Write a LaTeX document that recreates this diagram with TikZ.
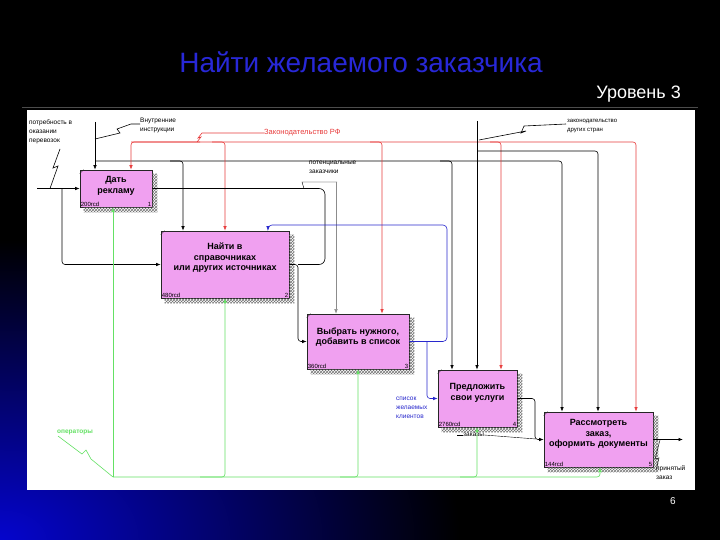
\documentclass[tikz,border=0pt]{standalone}
\usepackage{fontspec}
\setmainfont{Liberation Sans}
\usetikzlibrary{arrows.meta,patterns,calc}
\definecolor{boxpink}{RGB}{240,160,240}
\definecolor{titleblue}{RGB}{40,40,215}
\definecolor{lred}{RGB}{232,60,60}
\definecolor{lblue}{RGB}{40,40,205}
\definecolor{lgreen}{RGB}{100,225,100}
\definecolor{bgblue}{RGB}{5,5,205}
\tikzset{
  box/.style={draw=black!85, line width=0.6pt, fill=boxpink, inner sep=0pt},
  btxt/.style={font=\bfseries\fontsize{9}{10.5}\selectfont, align=center, inner sep=0pt},
  cost/.style={font=\fontsize{6}{7}\selectfont, inner sep=1pt},
  lbl/.style={font=\fontsize{6.5}{9}\selectfont, align=left, inner sep=0pt},
  wire/.style={line width=0.6pt},
  conn/.style={wire, -{Latex[length=4.5pt,width=3.4pt]}},
  rnd/.style={rounded corners=3pt},
}
\newcommand{\idefshadow}[1]{%
  \fill[pattern=crosshatch, pattern color=black!55]
   ($(#1.north east)+(0,4)$) -- ++(5,0) -- ($(#1.south east)+(5,5)$)
   -- ($(#1.south west)+(4,5)$) -- ($(#1.south west)+(4,0)$) -- (#1.south east) -- cycle;
  \draw[black!85, line width=0.4pt] ($(#1.north west)+(0,4)$) -- ++(4,-4);}
\begin{document}
\begin{tikzpicture}[x=1pt,y=-1pt]
\useasboundingbox (0,0) rectangle (720,540);
% background
\fill[black] (0,0) rectangle (720,540);
\begin{scope}
  \clip (0,0) rectangle (720,540);
  \shade[inner color=bgblue, outer color=black] (0,540) ellipse (460 and 300);
  \fill[black] (27,0) rectangle (720,490);
\end{scope}
\fill[white] (27,110) rectangle (695,490);
\draw[black!70!white, line width=0.3pt] (22,107) -- (698,107);
% title
\node[font=\fontsize{28}{31}\selectfont, text=titleblue, inner sep=0pt] (title) at (361,62) {Найти желаемого заказчика};
\node[font=\fontsize{18}{20}\selectfont, text=white, anchor=east, inner sep=0pt] (lvl) at (681,94) {Уровень 3};
\node[font=\fontsize{10}{12}\selectfont, text=white, inner sep=0pt] (pg) at (673,501) {6};

% boxes
\node[box, minimum width=72pt, minimum height=37pt] (b1) at (116,188.5) {};
\node[box, minimum width=128pt, minimum height=67pt] (b2) at (225,264.5) {};
\node[box, minimum width=102pt, minimum height=55pt] (b3) at (358,341.5) {};
\node[box, minimum width=79pt, minimum height=57pt] (b4) at (477.5,398.5) {};
\node[box, minimum width=109pt, minimum height=55pt] (b5) at (598.5,439.5) {};
\idefshadow{b1}\idefshadow{b2}\idefshadow{b3}\idefshadow{b4}\idefshadow{b5}

\node[btxt] (t1) at (116,186) {Дать\\рекламу};
\node[btxt] (t2) at (225,258) {Найти в\\справочниках\\или других источниках};
\node[btxt] (t3) at (358,337) {Выбрать нужного,\\добавить в список};
\node[btxt] (t4) at (477.5,393) {Предложить\\свои услуги};
\node[btxt] (t5) at (598.5,434) {Рассмотреть\\заказ,\\оформить документы};

\node[cost, anchor=south west] (k1) at (b1.south west) {200rcd};
\node[cost, anchor=south east] (n1) at (b1.south east) {1};
\node[cost, anchor=south west] (k2) at (b2.south west) {480rcd};
\node[cost, anchor=south east] (n2) at (b2.south east) {2};
\node[cost, anchor=south west] (k3) at (b3.south west) {360rcd};
\node[cost, anchor=south east] (n3) at (b3.south east) {3};
\node[cost, anchor=south west] (k4) at (b4.south west) {2760rcd};
\node[cost, anchor=south east] (n4) at (b4.south east) {4};
\node[cost, anchor=south west] (k5) at (b5.south west) {144rcd};
\node[cost, anchor=south east] (n5) at (b5.south east) {5};

% ---- input: потребность
\node[lbl, anchor=north west] (lin) at (29,120) {потребность в\\оказании\\перевозок};
\coordinate (in1) at (37,188.5);
\draw[conn] (in1) -- (b1.west);
\draw[conn, rnd] (62,188.5) |- (b2.west);
\draw[wire] (60,149) -- (53,168) -- (58,166) -- (50,188.5);

% ---- control: внутренние инструкции (black)
\node[lbl, anchor=north west] (lins) at (140,118) {Внутренние\\инструкции};
\draw[conn] (95,122) -- (95,0 |- b1.north);
\draw[wire] (140,124) -- (131,124) -- (117,129) -- (120,133) -- (95,139);
\draw[conn, rnd] (95,161) -| (562,0 |- b5.north);
\draw[conn, rnd] (170,161) -| (183,0 |- b2.north);
\draw[conn, rnd] (440,161) -| (452,0 |- b4.north);

% ---- control: законодательство РФ (red)
\node[lbl, anchor=west, text=lred, font=\fontsize{7.5}{9}\selectfont] (lrf) at (264,133) {Законодательство РФ};
\draw[wire, lred] (lrf.west) -- (202,133) -- (198,138) -- (201,137) -- (197,142);
\draw[conn, lred, rnd] (200,142) -| (131,0 |- b1.north);
\draw[conn, lred, rnd] (131,142) -| (636,0 |- b5.north);
\draw[conn, lred, rnd] (212,142) -| (225,0 |- b2.north);
\draw[conn, lred, rnd] (370,142) -| (382,0 |- b3.north);
\draw[conn, lred, rnd] (490,142) -| (501,0 |- b4.north);

% ---- control: законодательство других стран (black)
\node[lbl, anchor=north west, font=\fontsize{6}{9.5}\selectfont] (lds) at (567,119) {законодательство\\других стран};
\draw[wire] (566,124) -- (524,126) -- (521,133) -- (526,131) -- (479,140);
\draw[conn] (477,121) -- (477,0 |- b4.north);
\draw[conn, rnd] (477,151) -| (598,0 |- b5.north);

% ---- потенциальные заказчики
\node[lbl, anchor=north west] (lpz) at (309,161) {потенциальные\\заказчики};
\draw[wire, line width=0.4pt] (304,188.5) -- (302,182) -- (337,182);
\draw[conn, black!45, line width=0.4pt] (336,182) -- (336,0 |- b3.north);

% ---- output box1 and box2 -> box3
\coordinate (j23) at (298,264.5);
\draw[wire, rounded corners=6pt] (b1.east) -- (325,188.5) -- (325,264.5) -- (j23);
\draw[conn, rnd] (b2.east) -- (j23) |- (b3.west);

% ---- output box3 (blue)
\draw[conn, lblue, rounded corners=4pt] (b3.east) -- (447,341.5) -- (447,225) -- (268,225) -- (268,0 |- b2.north);
\draw[conn, lblue, rnd] (427,341.5) |- (b4.west);
\node[lbl, anchor=north west, text=lblue] (lsp) at (396,397) {список\\желаемых\\клиентов};

% ---- output box4 -> box5
\draw[conn, rnd] (b4.east) -- (535,398.5) |- (b5.west);
\node[lbl, anchor=west] (lzk) at (463,435) {заказы};
\draw[wire, line width=0.4pt] (457,435) -- (lzk.west);
\draw[wire, line width=0.4pt] (lzk.east) -- (536,439);

% ---- output box5
\coordinate (out5) at (683,439.5);
\draw[conn] (b5.east) -- (out5);
\node[lbl, anchor=north west] (lpr) at (656,465) {принятый\\заказ};
\draw[wire, line width=0.4pt] (657,466) -- (659,458) -- (655,459) -- (660,440);

% ---- mechanism (green)
\node[lbl, text=lgreen, font=\bfseries\fontsize{6.5}{8}\selectfont] (lop) at (75,432) {операторы};
\draw[wire, lgreen] (58,436) -- (82,454) -- (86,450) -- (91,459) -- (113,477);
\draw[conn, lgreen, rnd] (113,477) -- (113,0 |- b1.south);
\draw[conn, lgreen, rnd] (113,477) -| (600,0 |- b5.south);
\draw[conn, lgreen, rnd] (200,477) -| (225,0 |- b2.south);
\draw[conn, lgreen, rnd] (340,477) -| (358,0 |- b3.south);
\draw[conn, lgreen, rnd] (460,477) -| (477,0 |- b4.south);
\end{tikzpicture}
\end{document}
